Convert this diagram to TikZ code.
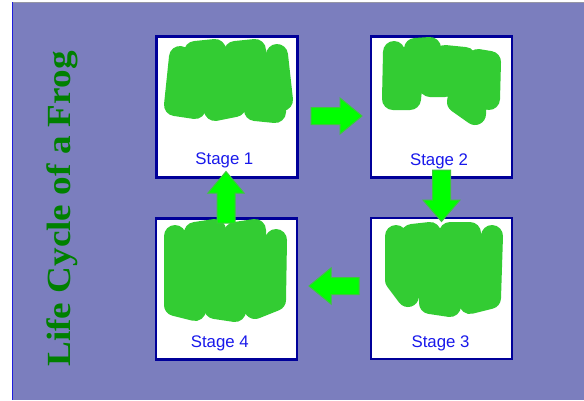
\documentclass[tikz,border=0pt]{standalone}
\usepackage{graphicx}
\usepackage{fontspec}
\setmainfont{Liberation Serif}
\newfontfamily\labelfont{Liberation Sans}
\definecolor{bgpurple}{RGB}{123,126,190}
\definecolor{boxnavy}{RGB}{0,0,153}
\definecolor{labelblue}{RGB}{25,25,235}
\definecolor{titlegreen}{RGB}{0,128,0}
\definecolor{blobgreen}{RGB}{51,204,51}
\definecolor{arrowfill}{RGB}{0,255,0}
\definecolor{arrowedge}{RGB}{60,200,60}
\definecolor{edgeblue}{RGB}{30,30,220}
\definecolor{edgegray}{RGB}{150,150,165}
\tikzset{
  stagebox/.style={rectangle, draw=boxnavy, fill=white, line width=2.5bp,
    minimum width=141bp, minimum height=141bp, inner sep=0pt},
  stagelabel/.style={text=labelblue, font=\labelfont\fontsize{16.8bp}{20bp}\selectfont,
    anchor=base, inner sep=0pt},
  blob/.style={draw=blobgreen, line width=22bp, line cap=round, line join=round},
  blockarrow/.style={fill=arrowfill, draw=arrowedge, line width=1bp, line join=miter},
  titlestyle/.style={rotate=90, anchor=base, text=titlegreen, inner sep=0pt,
    font=\fontsize{33.8bp}{40bp}\selectfont\bfseries}
}
\begin{document}
\begin{tikzpicture}[x=1bp,y=-1bp]
\useasboundingbox (0,0) rectangle (584,400);
% background
\fill[bgpurple] (12,2) rectangle (584,400);
\draw[edgegray, line width=1.2bp] (12,2.6) -- (584,2.6);
\draw[edgeblue, line width=1.2bp] (12.6,2) -- (12.6,400);
% title
\node[titlestyle] (title) at (70.7,209) {\scalebox{1.1}[1]{Life Cycle of a Frog}};
% boxes
\node[stagebox] (s1) at (227,106.75) {};
\node[stagebox] (s2) at (441.5,106.75) {};
\node[stagebox] (s3) at (441.25,288.5) {};
\node[stagebox] (s4) at (226.5,288.75) {};
% blobs
\draw[blob] (180,57) -- (175,105) -- (195,108) -- (195,52) -- (215,50) -- (215,110)
  -- (235,106) -- (235,52) -- (255,50) -- (255,110) -- (275,112) -- (277,55) -- (282,100);
\draw[blob] (394,52) -- (393,99) -- (410,99) -- (415,49) -- (430,48) -- (430,86)
  -- (445,86) -- (445,56) -- (465,58) -- (458,102) -- (475,114) -- (478,60) -- (490,62) -- (489,99);
\draw[blob] (396,236) -- (396,280) -- (408,296) -- (412,235) -- (430,233) -- (430,303)
  -- (450,306) -- (450,233) -- (470,233) -- (470,303) -- (490,298) -- (492,236);
\draw[blob] (175,236) -- (175,305) -- (195,310) -- (195,233) -- (215,230) -- (215,308)
  -- (235,311) -- (235,233) -- (255,230) -- (255,308) -- (275,300) -- (276,240);
% labels
\node[stagelabel] (l1) at (224.4,164.5) {Stage 1};
\node[stagelabel] (l2) at (439,165) {Stage 2};
\node[stagelabel] (l3) at (440.5,347.3) {Stage 3};
\node[stagelabel] (l4) at (219.8,347.3) {Stage 4};
% block arrows
\draw[blockarrow] (311,107.5) -- (340,107.5) -- (340,98) -- (362,116) -- (340,134) -- (340,124.5) -- (311,124.5) -- cycle;
\draw[blockarrow] (432.5,170) -- (432.5,200) -- (423,200) -- (441.5,221.5) -- (460,200) -- (450.5,200) -- (450.5,170) -- cycle;
\draw[blockarrow] (359,277.5) -- (331,277.5) -- (331,268) -- (309,286) -- (331,304) -- (331,294.5) -- (359,294.5) -- cycle;
\draw[blockarrow] (217,223) -- (217,193) -- (208,193) -- (226,171.5) -- (244,193) -- (235,193) -- (235,223) -- cycle;
\end{tikzpicture}
\end{document}
